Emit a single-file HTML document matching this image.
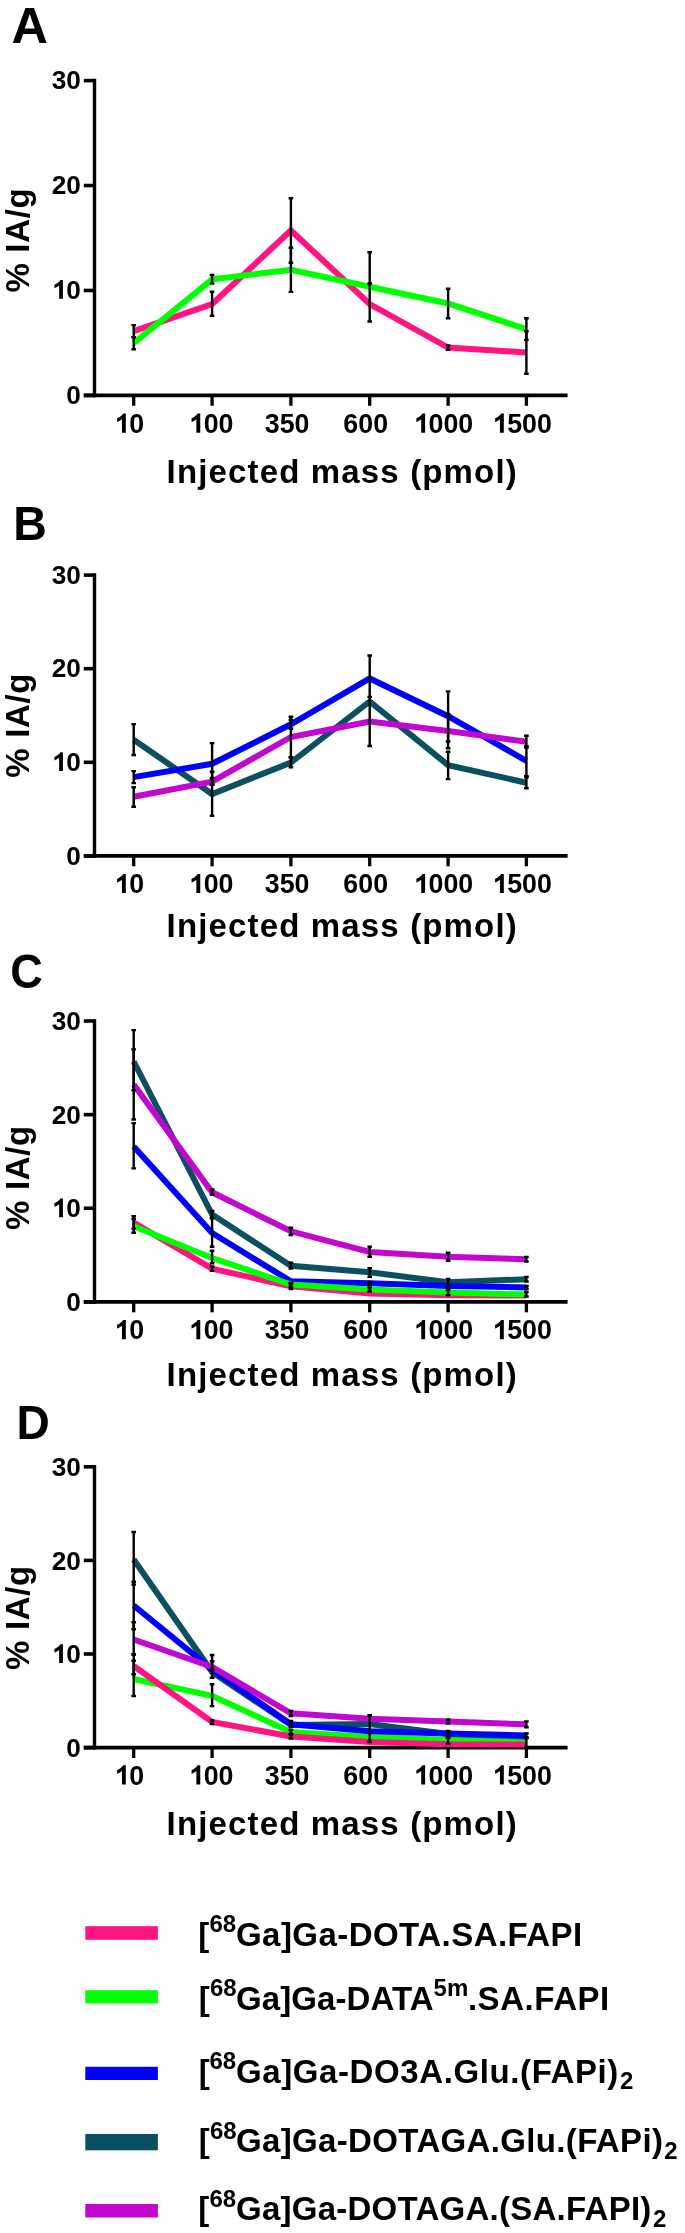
<!DOCTYPE html>
<html><head><meta charset="utf-8"><style>
html,body{margin:0;padding:0;background:#fff;width:685px;height:2233px;overflow:hidden}
svg{display:block;will-change:transform;font-family:"Liberation Sans",sans-serif;font-weight:bold}
</style></head><body>
<svg width="685" height="2233" viewBox="0 0 685 2233">
<rect width="685" height="2233" fill="#fff"/>
<text transform="translate(13.2,42.6) scale(1.0,1)" x="-1.7" y="0" font-size="50.5">A</text>
<path d="M94.5 78.80V397.20" stroke="#000" stroke-width="3.4"/>
<path d="M83.8 80.60H94.5" stroke="#000" stroke-width="3.6"/>
<text x="51.66" y="88.80" font-size="26.2">30</text>
<path d="M83.8 185.53H94.5" stroke="#000" stroke-width="3.6"/>
<text x="51.66" y="193.73" font-size="26.2">20</text>
<path d="M83.8 290.47H94.5" stroke="#000" stroke-width="3.6"/>
<path transform="translate(51.66,298.67) scale(26.2,-26.2)" d="M0.43 0L0.43 0.716L0.33 0.716C0.29 0.64 0.2 0.575 0.105 0.535L0.105 0.40C0.17 0.425 0.24 0.46 0.285 0.50L0.285 0Z"/><text x="66.23" y="298.67" font-size="26.2">0</text>
<path d="M83.8 395.40H94.5" stroke="#000" stroke-width="3.6"/>
<text x="66.23" y="403.60" font-size="26.2">0</text>
<path d="M83.8 395.40H567.6" stroke="#000" stroke-width="3.6"/>
<path d="M133.7 395.40V405.80" stroke="#000" stroke-width="3.3"/>
<path transform="translate(114.29,432.70) scale(26.8,-26.8)" d="M0.43 0L0.43 0.716L0.33 0.716C0.29 0.64 0.2 0.575 0.105 0.535L0.105 0.40C0.17 0.425 0.24 0.46 0.285 0.50L0.285 0Z"/><text x="129.20" y="432.70" font-size="26.8">0</text>
<path d="M212.1 395.40V405.80" stroke="#000" stroke-width="3.3"/>
<path transform="translate(188.74,432.70) scale(26.8,-26.8)" d="M0.43 0L0.43 0.716L0.33 0.716C0.29 0.64 0.2 0.575 0.105 0.535L0.105 0.40C0.17 0.425 0.24 0.46 0.285 0.50L0.285 0Z"/><text x="203.65" y="432.70" font-size="26.8">00</text>
<path d="M290.9 395.40V405.80" stroke="#000" stroke-width="3.3"/>
<text x="264.74" y="432.70" font-size="26.8">350</text>
<path d="M369.7 395.40V405.80" stroke="#000" stroke-width="3.3"/>
<text x="343.34" y="432.70" font-size="26.8">600</text>
<path d="M448.1 395.40V405.80" stroke="#000" stroke-width="3.3"/>
<path transform="translate(413.59,432.70) scale(26.8,-26.8)" d="M0.43 0L0.43 0.716L0.33 0.716C0.29 0.64 0.2 0.575 0.105 0.535L0.105 0.40C0.17 0.425 0.24 0.46 0.285 0.50L0.285 0Z"/><text x="428.49" y="432.70" font-size="26.8">000</text>
<path d="M526.4 395.40V405.80" stroke="#000" stroke-width="3.3"/>
<path transform="translate(492.29,432.70) scale(26.8,-26.8)" d="M0.43 0L0.43 0.716L0.33 0.716C0.29 0.64 0.2 0.575 0.105 0.535L0.105 0.40C0.17 0.425 0.24 0.46 0.285 0.50L0.285 0Z"/><text x="507.19" y="432.70" font-size="26.8">500</text>
<text x="166.6" y="483.2" font-size="33" letter-spacing="1.15">Injected mass (pmol)</text>
<text transform="translate(28.9,240.1) rotate(-90)" font-size="33" letter-spacing="0.65" text-anchor="middle">% IA/g</text>
<g>
<path d="M133.70,331.10 L133.70,331.10 L212.10,304.00 L290.90,230.45 L369.70,304.00 L448.10,347.60 L526.40,352.50 L526.40,352.50" fill="none" stroke="#FF1482" stroke-width="6.0" stroke-linejoin="miter" stroke-miterlimit="10"/>
<path d="M133.70,343.20 L133.70,343.20 L212.10,279.30 L290.90,269.85 L369.70,286.80 L448.10,303.45 L526.40,329.10 L526.40,329.10" fill="none" stroke="#00FF00" stroke-width="6.0" stroke-linejoin="miter" stroke-miterlimit="10"/>
</g>
<path d="M133.7 325.1V337.1M131.4 325.1H136.0M131.4 337.1H136.0" stroke="#000" stroke-width="2.4"/>
<path d="M133.7 337.1V349.3M131.4 337.1H136.0M131.4 349.3H136.0" stroke="#000" stroke-width="2.4"/>
<path d="M212.1 291.8V315.8M209.8 291.8H214.4M209.8 315.8H214.4" stroke="#000" stroke-width="2.4"/>
<path d="M212.1 274.9V283.6M209.8 274.9H214.4M209.8 283.6H214.4" stroke="#000" stroke-width="2.4"/>
<path d="M290.9 198.2V262.7M288.6 198.2H293.2M288.6 262.7H293.2" stroke="#000" stroke-width="2.4"/>
<path d="M290.9 247.8V291.9M288.6 247.8H293.2M288.6 291.9H293.2" stroke="#000" stroke-width="2.4"/>
<path d="M369.7 252.3V321.5M367.4 252.3H372.0M367.4 321.5H372.0" stroke="#000" stroke-width="2.4"/>
<path d="M369.7 283.5V283.5M367.4 283.5H372.0M367.4 283.5H372.0" stroke="#000" stroke-width="2.4"/>
<path d="M448.1 345.4V349.8M445.8 345.4H450.4M445.8 349.8H450.4" stroke="#000" stroke-width="2.4"/>
<path d="M448.1 288.7V318.2M445.8 288.7H450.4M445.8 318.2H450.4" stroke="#000" stroke-width="2.4"/>
<path d="M526.4 331.2V373.8M524.1 331.2H528.7M524.1 373.8H528.7" stroke="#000" stroke-width="2.4"/>
<path d="M526.4 318.3V339.9M524.1 318.3H528.7M524.1 339.9H528.7" stroke="#000" stroke-width="2.4"/>
<text transform="translate(16.5,540.1) scale(0.95,1)" x="-3.5" y="0" font-size="49">B</text>
<path d="M94.5 573.30V857.70" stroke="#000" stroke-width="3.4"/>
<path d="M83.8 575.10H94.5" stroke="#000" stroke-width="3.6"/>
<text x="51.66" y="583.70" font-size="26.2">30</text>
<path d="M83.8 668.70H94.5" stroke="#000" stroke-width="3.6"/>
<text x="51.66" y="677.30" font-size="26.2">20</text>
<path d="M83.8 762.30H94.5" stroke="#000" stroke-width="3.6"/>
<path transform="translate(51.66,770.90) scale(26.2,-26.2)" d="M0.43 0L0.43 0.716L0.33 0.716C0.29 0.64 0.2 0.575 0.105 0.535L0.105 0.40C0.17 0.425 0.24 0.46 0.285 0.50L0.285 0Z"/><text x="66.23" y="770.90" font-size="26.2">0</text>
<path d="M83.8 855.90H94.5" stroke="#000" stroke-width="3.6"/>
<text x="66.23" y="864.50" font-size="26.2">0</text>
<path d="M83.8 855.90H567.6" stroke="#000" stroke-width="3.6"/>
<path d="M133.7 855.90V866.30" stroke="#000" stroke-width="3.3"/>
<path transform="translate(114.29,893.10) scale(26.8,-26.8)" d="M0.43 0L0.43 0.716L0.33 0.716C0.29 0.64 0.2 0.575 0.105 0.535L0.105 0.40C0.17 0.425 0.24 0.46 0.285 0.50L0.285 0Z"/><text x="129.20" y="893.10" font-size="26.8">0</text>
<path d="M212.1 855.90V866.30" stroke="#000" stroke-width="3.3"/>
<path transform="translate(188.74,893.10) scale(26.8,-26.8)" d="M0.43 0L0.43 0.716L0.33 0.716C0.29 0.64 0.2 0.575 0.105 0.535L0.105 0.40C0.17 0.425 0.24 0.46 0.285 0.50L0.285 0Z"/><text x="203.65" y="893.10" font-size="26.8">00</text>
<path d="M290.9 855.90V866.30" stroke="#000" stroke-width="3.3"/>
<text x="264.74" y="893.10" font-size="26.8">350</text>
<path d="M369.7 855.90V866.30" stroke="#000" stroke-width="3.3"/>
<text x="343.34" y="893.10" font-size="26.8">600</text>
<path d="M448.1 855.90V866.30" stroke="#000" stroke-width="3.3"/>
<path transform="translate(413.59,893.10) scale(26.8,-26.8)" d="M0.43 0L0.43 0.716L0.33 0.716C0.29 0.64 0.2 0.575 0.105 0.535L0.105 0.40C0.17 0.425 0.24 0.46 0.285 0.50L0.285 0Z"/><text x="428.49" y="893.10" font-size="26.8">000</text>
<path d="M526.4 855.90V866.30" stroke="#000" stroke-width="3.3"/>
<path transform="translate(492.29,893.10) scale(26.8,-26.8)" d="M0.43 0L0.43 0.716L0.33 0.716C0.29 0.64 0.2 0.575 0.105 0.535L0.105 0.40C0.17 0.425 0.24 0.46 0.285 0.50L0.285 0Z"/><text x="507.19" y="893.10" font-size="26.8">500</text>
<text x="166.6" y="936.6" font-size="33" letter-spacing="1.15">Injected mass (pmol)</text>
<text transform="translate(28.9,725.3) rotate(-90)" font-size="33" letter-spacing="0.65" text-anchor="middle">% IA/g</text>
<g>
<path d="M133.70,739.80 L133.70,739.80 L212.10,794.00 L290.90,762.50 L369.70,701.50 L448.10,765.20 L526.40,782.70 L526.40,782.70" fill="none" stroke="#0A5060" stroke-width="6.0" stroke-linejoin="miter" stroke-miterlimit="10"/>
<path d="M133.70,777.10 L133.70,777.10 L212.10,763.80 L290.90,724.30 L369.70,678.50 L448.10,716.20 L526.40,760.90 L526.40,760.90" fill="none" stroke="#0000FF" stroke-width="6.0" stroke-linejoin="miter" stroke-miterlimit="10"/>
<path d="M133.70,796.80 L133.70,796.80 L212.10,781.60 L290.90,737.00 L369.70,721.60 L448.10,731.10 L526.40,741.70 L526.40,741.70" fill="none" stroke="#C208D0" stroke-width="6.0" stroke-linejoin="miter" stroke-miterlimit="10"/>
</g>
<path d="M133.7 724.1V755.0M131.4 724.1H136.0M131.4 755.0H136.0" stroke="#000" stroke-width="2.4"/>
<path d="M133.7 771.1V783.1M131.4 771.1H136.0M131.4 783.1H136.0" stroke="#000" stroke-width="2.4"/>
<path d="M133.7 787.2V806.7M131.4 787.2H136.0M131.4 806.7H136.0" stroke="#000" stroke-width="2.4"/>
<path d="M212.1 743.1V784.8M209.8 743.1H214.4M209.8 784.8H214.4" stroke="#000" stroke-width="2.4"/>
<path d="M212.1 778.1V784.8M209.8 778.1H214.4M209.8 784.8H214.4" stroke="#000" stroke-width="2.4"/>
<path d="M212.1 771.7V815.8M209.8 771.7H214.4M209.8 815.8H214.4" stroke="#000" stroke-width="2.4"/>
<path d="M290.9 719.9V728.7M288.6 719.9H293.2M288.6 728.7H293.2" stroke="#000" stroke-width="2.4"/>
<path d="M290.9 716.7V757.3M288.6 716.7H293.2M288.6 757.3H293.2" stroke="#000" stroke-width="2.4"/>
<path d="M290.9 757.3V767.2M288.6 757.3H293.2M288.6 767.2H293.2" stroke="#000" stroke-width="2.4"/>
<path d="M369.7 655.5V746.0M367.4 655.5H372.0M367.4 746.0H372.0" stroke="#000" stroke-width="2.4"/>
<path d="M369.7 696.9V696.9M367.4 696.9H372.0M367.4 696.9H372.0" stroke="#000" stroke-width="2.4"/>
<path d="M448.1 691.4V741.5M445.8 691.4H450.4M445.8 741.5H450.4" stroke="#000" stroke-width="2.4"/>
<path d="M448.1 714.0V748.2M445.8 714.0H450.4M445.8 748.2H450.4" stroke="#000" stroke-width="2.4"/>
<path d="M448.1 751.7V779.1M445.8 751.7H450.4M445.8 779.1H450.4" stroke="#000" stroke-width="2.4"/>
<path d="M526.4 735.8V747.5M524.1 735.8H528.7M524.1 747.5H528.7" stroke="#000" stroke-width="2.4"/>
<path d="M526.4 746.3V776.1M524.1 746.3H528.7M524.1 776.1H528.7" stroke="#000" stroke-width="2.4"/>
<path d="M526.4 777.2V788.3M524.1 777.2H528.7M524.1 788.3H528.7" stroke="#000" stroke-width="2.4"/>
<text transform="translate(12.0,988.0) scale(0.92,1)" x="-1.8" y="0" font-size="49">C</text>
<path d="M94.5 1019.20V1303.70" stroke="#000" stroke-width="3.4"/>
<path d="M83.8 1021.00H94.5" stroke="#000" stroke-width="3.6"/>
<text x="51.66" y="1030.10" font-size="26.2">30</text>
<path d="M83.8 1114.63H94.5" stroke="#000" stroke-width="3.6"/>
<text x="51.66" y="1123.73" font-size="26.2">20</text>
<path d="M83.8 1208.27H94.5" stroke="#000" stroke-width="3.6"/>
<path transform="translate(51.66,1217.37) scale(26.2,-26.2)" d="M0.43 0L0.43 0.716L0.33 0.716C0.29 0.64 0.2 0.575 0.105 0.535L0.105 0.40C0.17 0.425 0.24 0.46 0.285 0.50L0.285 0Z"/><text x="66.23" y="1217.37" font-size="26.2">0</text>
<path d="M83.8 1301.90H94.5" stroke="#000" stroke-width="3.6"/>
<text x="66.23" y="1311.00" font-size="26.2">0</text>
<path d="M83.8 1301.90H567.6" stroke="#000" stroke-width="3.6"/>
<path d="M133.7 1301.90V1312.30" stroke="#000" stroke-width="3.3"/>
<path transform="translate(114.29,1339.20) scale(26.8,-26.8)" d="M0.43 0L0.43 0.716L0.33 0.716C0.29 0.64 0.2 0.575 0.105 0.535L0.105 0.40C0.17 0.425 0.24 0.46 0.285 0.50L0.285 0Z"/><text x="129.20" y="1339.20" font-size="26.8">0</text>
<path d="M212.1 1301.90V1312.30" stroke="#000" stroke-width="3.3"/>
<path transform="translate(188.74,1339.20) scale(26.8,-26.8)" d="M0.43 0L0.43 0.716L0.33 0.716C0.29 0.64 0.2 0.575 0.105 0.535L0.105 0.40C0.17 0.425 0.24 0.46 0.285 0.50L0.285 0Z"/><text x="203.65" y="1339.20" font-size="26.8">00</text>
<path d="M290.9 1301.90V1312.30" stroke="#000" stroke-width="3.3"/>
<text x="264.74" y="1339.20" font-size="26.8">350</text>
<path d="M369.7 1301.90V1312.30" stroke="#000" stroke-width="3.3"/>
<text x="343.34" y="1339.20" font-size="26.8">600</text>
<path d="M448.1 1301.90V1312.30" stroke="#000" stroke-width="3.3"/>
<path transform="translate(413.59,1339.20) scale(26.8,-26.8)" d="M0.43 0L0.43 0.716L0.33 0.716C0.29 0.64 0.2 0.575 0.105 0.535L0.105 0.40C0.17 0.425 0.24 0.46 0.285 0.50L0.285 0Z"/><text x="428.49" y="1339.20" font-size="26.8">000</text>
<path d="M526.4 1301.90V1312.30" stroke="#000" stroke-width="3.3"/>
<path transform="translate(492.29,1339.20) scale(26.8,-26.8)" d="M0.43 0L0.43 0.716L0.33 0.716C0.29 0.64 0.2 0.575 0.105 0.535L0.105 0.40C0.17 0.425 0.24 0.46 0.285 0.50L0.285 0Z"/><text x="507.19" y="1339.20" font-size="26.8">500</text>
<text x="166.6" y="1385.5" font-size="33" letter-spacing="1.15">Injected mass (pmol)</text>
<text transform="translate(28.9,1177.5) rotate(-90)" font-size="33" letter-spacing="0.65" text-anchor="middle">% IA/g</text>
<g>
<path d="M133.70,1222.60 L133.70,1222.60 L212.10,1268.70 L290.90,1286.30 L369.70,1293.40 L448.10,1295.20 L526.40,1295.50 L526.40,1295.50" fill="none" stroke="#FF1482" stroke-width="6.0" stroke-linejoin="miter" stroke-miterlimit="10"/>
<path d="M133.70,1061.50 L133.70,1061.50 L212.10,1214.50 L290.90,1265.80 L369.70,1272.30 L448.10,1282.20 L526.40,1279.20 L526.40,1279.20" fill="none" stroke="#0A5060" stroke-width="6.0" stroke-linejoin="miter" stroke-miterlimit="10"/>
<path d="M133.70,1146.50 L133.70,1146.50 L212.10,1233.00 L290.90,1281.30 L369.70,1283.30 L448.10,1286.00 L526.40,1287.40 L526.40,1287.40" fill="none" stroke="#0000FF" stroke-width="6.0" stroke-linejoin="miter" stroke-miterlimit="10"/>
<path d="M133.70,1226.20 L133.70,1226.20 L212.10,1258.00 L290.90,1284.50 L369.70,1289.40 L448.10,1292.50 L526.40,1294.60 L526.40,1294.60" fill="none" stroke="#00FF00" stroke-width="6.0" stroke-linejoin="miter" stroke-miterlimit="10"/>
<path d="M133.70,1084.60 L133.70,1084.60 L212.10,1192.30 L290.90,1231.30 L369.70,1252.00 L448.10,1256.80 L526.40,1259.20 L526.40,1259.20" fill="none" stroke="#C208D0" stroke-width="6.0" stroke-linejoin="miter" stroke-miterlimit="10"/>
</g>
<path d="M133.7 1030.1V1090.3M131.4 1030.1H136.0M131.4 1090.3H136.0" stroke="#000" stroke-width="2.4"/>
<path d="M133.7 1049.4V1119.5M131.4 1049.4H136.0M131.4 1119.5H136.0" stroke="#000" stroke-width="2.4"/>
<path d="M133.7 1123.1V1168.4M131.4 1123.1H136.0M131.4 1168.4H136.0" stroke="#000" stroke-width="2.4"/>
<path d="M133.7 1216.2V1228.6M131.4 1216.2H136.0M131.4 1228.6H136.0" stroke="#000" stroke-width="2.4"/>
<path d="M133.7 1219.3V1232.7M131.4 1219.3H136.0M131.4 1232.7H136.0" stroke="#000" stroke-width="2.4"/>
<path d="M212.1 1189.5V1194.6M209.8 1189.5H214.4M209.8 1194.6H214.4" stroke="#000" stroke-width="2.4"/>
<path d="M212.1 1211.0V1218.0M209.8 1211.0H214.4M209.8 1218.0H214.4" stroke="#000" stroke-width="2.4"/>
<path d="M212.1 1218.0V1246.8M209.8 1218.0H214.4M209.8 1246.8H214.4" stroke="#000" stroke-width="2.4"/>
<path d="M212.1 1250.8V1263.2M209.8 1250.8H214.4M209.8 1263.2H214.4" stroke="#000" stroke-width="2.4"/>
<path d="M212.1 1266.5V1270.9M209.8 1266.5H214.4M209.8 1270.9H214.4" stroke="#000" stroke-width="2.4"/>
<path d="M290.9 1227.7V1235.0M288.6 1227.7H293.2M288.6 1235.0H293.2" stroke="#000" stroke-width="2.4"/>
<path d="M290.9 1262.7V1268.5M288.6 1262.7H293.2M288.6 1268.5H293.2" stroke="#000" stroke-width="2.4"/>
<path d="M290.9 1283.0V1287.0M288.6 1283.0H293.2M288.6 1287.0H293.2" stroke="#000" stroke-width="2.4"/>
<path d="M290.9 1284.0V1289.0M288.6 1284.0H293.2M288.6 1289.0H293.2" stroke="#000" stroke-width="2.4"/>
<path d="M369.7 1246.6V1256.8M367.4 1246.6H372.0M367.4 1256.8H372.0" stroke="#000" stroke-width="2.4"/>
<path d="M369.7 1268.1V1276.9M367.4 1268.1H372.0M367.4 1276.9H372.0" stroke="#000" stroke-width="2.4"/>
<path d="M369.7 1282.0V1285.0M367.4 1282.0H372.0M367.4 1285.0H372.0" stroke="#000" stroke-width="2.4"/>
<path d="M369.7 1287.5V1291.5M367.4 1287.5H372.0M367.4 1291.5H372.0" stroke="#000" stroke-width="2.4"/>
<path d="M448.1 1252.8V1260.8M445.8 1252.8H450.4M445.8 1260.8H450.4" stroke="#000" stroke-width="2.4"/>
<path d="M448.1 1279.0V1287.0M445.8 1279.0H450.4M445.8 1287.0H450.4" stroke="#000" stroke-width="2.4"/>
<path d="M448.1 1290.0V1295.0M445.8 1290.0H450.4M445.8 1295.0H450.4" stroke="#000" stroke-width="2.4"/>
<path d="M526.4 1257.0V1261.5M524.1 1257.0H528.7M524.1 1261.5H528.7" stroke="#000" stroke-width="2.4"/>
<path d="M526.4 1277.0V1281.5M524.1 1277.0H528.7M524.1 1281.5H528.7" stroke="#000" stroke-width="2.4"/>
<path d="M526.4 1286.0V1289.0M524.1 1286.0H528.7M524.1 1289.0H528.7" stroke="#000" stroke-width="2.4"/>
<path d="M526.4 1292.0V1296.5M524.1 1292.0H528.7M524.1 1296.5H528.7" stroke="#000" stroke-width="2.4"/>
<text transform="translate(19.9,1439.1) scale(0.94,1)" x="-3.5" y="0" font-size="49">D</text>
<path d="M94.5 1465.00V1749.40" stroke="#000" stroke-width="3.4"/>
<path d="M83.8 1466.80H94.5" stroke="#000" stroke-width="3.6"/>
<text x="51.66" y="1475.90" font-size="26.2">30</text>
<path d="M83.8 1560.40H94.5" stroke="#000" stroke-width="3.6"/>
<text x="51.66" y="1569.50" font-size="26.2">20</text>
<path d="M83.8 1654.00H94.5" stroke="#000" stroke-width="3.6"/>
<path transform="translate(51.66,1663.10) scale(26.2,-26.2)" d="M0.43 0L0.43 0.716L0.33 0.716C0.29 0.64 0.2 0.575 0.105 0.535L0.105 0.40C0.17 0.425 0.24 0.46 0.285 0.50L0.285 0Z"/><text x="66.23" y="1663.10" font-size="26.2">0</text>
<path d="M83.8 1747.60H94.5" stroke="#000" stroke-width="3.6"/>
<text x="66.23" y="1756.70" font-size="26.2">0</text>
<path d="M83.8 1747.60H567.6" stroke="#000" stroke-width="3.6"/>
<path d="M133.7 1747.60V1758.00" stroke="#000" stroke-width="3.3"/>
<path transform="translate(114.29,1784.50) scale(26.8,-26.8)" d="M0.43 0L0.43 0.716L0.33 0.716C0.29 0.64 0.2 0.575 0.105 0.535L0.105 0.40C0.17 0.425 0.24 0.46 0.285 0.50L0.285 0Z"/><text x="129.20" y="1784.50" font-size="26.8">0</text>
<path d="M212.1 1747.60V1758.00" stroke="#000" stroke-width="3.3"/>
<path transform="translate(188.74,1784.50) scale(26.8,-26.8)" d="M0.43 0L0.43 0.716L0.33 0.716C0.29 0.64 0.2 0.575 0.105 0.535L0.105 0.40C0.17 0.425 0.24 0.46 0.285 0.50L0.285 0Z"/><text x="203.65" y="1784.50" font-size="26.8">00</text>
<path d="M290.9 1747.60V1758.00" stroke="#000" stroke-width="3.3"/>
<text x="264.74" y="1784.50" font-size="26.8">350</text>
<path d="M369.7 1747.60V1758.00" stroke="#000" stroke-width="3.3"/>
<text x="343.34" y="1784.50" font-size="26.8">600</text>
<path d="M448.1 1747.60V1758.00" stroke="#000" stroke-width="3.3"/>
<path transform="translate(413.59,1784.50) scale(26.8,-26.8)" d="M0.43 0L0.43 0.716L0.33 0.716C0.29 0.64 0.2 0.575 0.105 0.535L0.105 0.40C0.17 0.425 0.24 0.46 0.285 0.50L0.285 0Z"/><text x="428.49" y="1784.50" font-size="26.8">000</text>
<path d="M526.4 1747.60V1758.00" stroke="#000" stroke-width="3.3"/>
<path transform="translate(492.29,1784.50) scale(26.8,-26.8)" d="M0.43 0L0.43 0.716L0.33 0.716C0.29 0.64 0.2 0.575 0.105 0.535L0.105 0.40C0.17 0.425 0.24 0.46 0.285 0.50L0.285 0Z"/><text x="507.19" y="1784.50" font-size="26.8">500</text>
<text x="166.6" y="1834.5" font-size="33" letter-spacing="1.15">Injected mass (pmol)</text>
<text transform="translate(28.9,1617.5) rotate(-90)" font-size="33" letter-spacing="0.65" text-anchor="middle">% IA/g</text>
<g>
<path d="M133.70,1679.00 L133.70,1679.00 L212.10,1695.90 L290.90,1732.00 L369.70,1737.00 L448.10,1739.80 L526.40,1740.50 L526.40,1740.50" fill="none" stroke="#00FF00" stroke-width="6.0" stroke-linejoin="miter" stroke-miterlimit="10"/>
<path d="M133.70,1666.00 L133.70,1666.00 L212.10,1722.00 L290.90,1736.40 L369.70,1742.00 L448.10,1744.30 L526.40,1744.60 L526.40,1744.60" fill="none" stroke="#FF1482" stroke-width="6.0" stroke-linejoin="miter" stroke-miterlimit="10"/>
<path d="M133.70,1559.50 L133.70,1559.50 L212.10,1672.00 L290.90,1725.00 L369.70,1724.00 L448.10,1734.00 L526.40,1736.50 L526.40,1736.50" fill="none" stroke="#0A5060" stroke-width="6.0" stroke-linejoin="miter" stroke-miterlimit="10"/>
<path d="M133.70,1605.50 L133.70,1605.50 L212.10,1669.50 L290.90,1724.30 L369.70,1731.20 L448.10,1733.50 L526.40,1735.50 L526.40,1735.50" fill="none" stroke="#0000FF" stroke-width="6.0" stroke-linejoin="miter" stroke-miterlimit="10"/>
<path d="M133.70,1639.50 L133.70,1639.50 L212.10,1667.00 L290.90,1713.30 L369.70,1718.70 L448.10,1721.60 L526.40,1724.30 L526.40,1724.30" fill="none" stroke="#C208D0" stroke-width="6.0" stroke-linejoin="miter" stroke-miterlimit="10"/>
</g>
<path d="M133.7 1532.0V1584.6M131.4 1532.0H136.0M131.4 1584.6H136.0" stroke="#000" stroke-width="2.4"/>
<path d="M133.7 1581.7V1629.3M131.4 1581.7H136.0M131.4 1629.3H136.0" stroke="#000" stroke-width="2.4"/>
<path d="M133.7 1622.3V1654.5M131.4 1622.3H136.0M131.4 1654.5H136.0" stroke="#000" stroke-width="2.4"/>
<path d="M133.7 1654.5V1674.2M131.4 1654.5H136.0M131.4 1674.2H136.0" stroke="#000" stroke-width="2.4"/>
<path d="M133.7 1660.7V1696.0M131.4 1660.7H136.0M131.4 1696.0H136.0" stroke="#000" stroke-width="2.4"/>
<path d="M212.1 1655.0V1677.7M209.8 1655.0H214.4M209.8 1677.7H214.4" stroke="#000" stroke-width="2.4"/>
<path d="M212.1 1661.2V1670.0M209.8 1661.2H214.4M209.8 1670.0H214.4" stroke="#000" stroke-width="2.4"/>
<path d="M212.1 1684.2V1706.1M209.8 1684.2H214.4M209.8 1706.1H214.4" stroke="#000" stroke-width="2.4"/>
<path d="M212.1 1720.5V1724.0M209.8 1720.5H214.4M209.8 1724.0H214.4" stroke="#000" stroke-width="2.4"/>
<path d="M290.9 1711.0V1716.0M288.6 1711.0H293.2M288.6 1716.0H293.2" stroke="#000" stroke-width="2.4"/>
<path d="M290.9 1721.0V1727.0M288.6 1721.0H293.2M288.6 1727.0H293.2" stroke="#000" stroke-width="2.4"/>
<path d="M290.9 1730.0V1734.0M288.6 1730.0H293.2M288.6 1734.0H293.2" stroke="#000" stroke-width="2.4"/>
<path d="M290.9 1734.5V1738.5M288.6 1734.5H293.2M288.6 1738.5H293.2" stroke="#000" stroke-width="2.4"/>
<path d="M369.7 1715.2V1742.0M367.4 1715.2H372.0M367.4 1742.0H372.0" stroke="#000" stroke-width="2.4"/>
<path d="M448.1 1719.5V1723.5M445.8 1719.5H450.4M445.8 1723.5H450.4" stroke="#000" stroke-width="2.4"/>
<path d="M448.1 1731.0V1736.0M445.8 1731.0H450.4M445.8 1736.0H450.4" stroke="#000" stroke-width="2.4"/>
<path d="M448.1 1738.0V1744.0M445.8 1738.0H450.4M445.8 1744.0H450.4" stroke="#000" stroke-width="2.4"/>
<path d="M526.4 1721.4V1727.2M524.1 1721.4H528.7M524.1 1727.2H528.7" stroke="#000" stroke-width="2.4"/>
<path d="M526.4 1733.5V1737.5M524.1 1733.5H528.7M524.1 1737.5H528.7" stroke="#000" stroke-width="2.4"/>
<path d="M526.4 1738.0V1747.0M524.1 1738.0H528.7M524.1 1747.0H528.7" stroke="#000" stroke-width="2.4"/>
<rect x="85.3" y="1926.2" width="72.6" height="13.6" fill="#FF1482"/>
<text x="198.2" y="1945.9" font-size="33">[</text>
<text x="209.4" y="1932.1" font-size="24">68</text>
<text x="236" y="1945.9" font-size="33" letter-spacing="0.45">Ga]Ga-DOTA.SA.FAPI</text>
<rect x="85.3" y="1990.2" width="72.6" height="13.1" fill="#00FF00"/>
<text x="198.7" y="2009.8" font-size="33">[</text>
<text x="209.9" y="1995.9" font-size="24">68</text>
<text x="236" y="2009.8" font-size="33" letter-spacing="0.1">Ga]Ga-DATA</text>
<text x="467.9" y="2009.8" font-size="33" letter-spacing="0.55">.SA.FAPI</text>
<text x="433.6" y="1995.9" font-size="24">5m</text>
<rect x="85.3" y="2066.8" width="72.6" height="13.2" fill="#0000FF"/>
<text x="198.7" y="2082.7" font-size="33">[</text>
<text x="209.4" y="2069.4" font-size="24">68</text>
<text x="236" y="2082.7" font-size="33" letter-spacing="0.6">Ga]Ga-DO3A.Glu.(FAPi)</text>
<text x="620.0" y="2089.4" font-size="24">2</text>
<rect x="85.3" y="2134.0" width="72.6" height="16.3" fill="#0A5060"/>
<text x="198.7" y="2152.0" font-size="33">[</text>
<text x="209.9" y="2138.9" font-size="24">68</text>
<text x="236" y="2152.0" font-size="33" letter-spacing="0.35">Ga]Ga-DOTAGA.Glu.(FAPi)</text>
<text x="664.3" y="2158.8" font-size="24">2</text>
<rect x="85.3" y="2204.0" width="72.6" height="13.5" fill="#C208D0"/>
<text x="198.2" y="2220.3" font-size="33">[</text>
<text x="209.4" y="2207.0" font-size="24">68</text>
<text x="236" y="2220.3" font-size="33" letter-spacing="0.25">Ga]Ga-DOTAGA.(SA.FAPI)</text>
<text x="652.9" y="2226.8" font-size="24">2</text>
</svg></body></html>
